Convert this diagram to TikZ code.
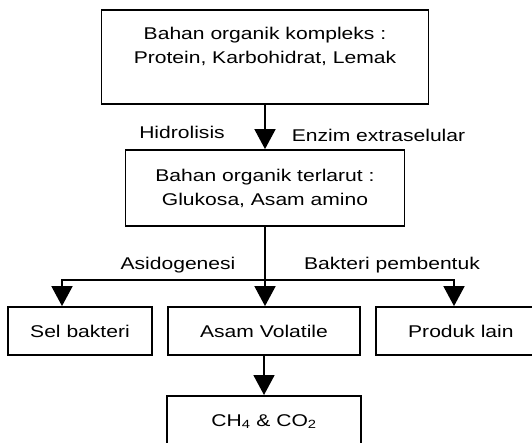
\documentclass[tikz,border=0pt]{standalone}
\usepackage{fontspec}
\setmainfont{Liberation Sans}[FakeStretch=1.24]
\usetikzlibrary{arrows.meta,positioning}
\tikzset{
flow/.style={x=1pt,y=-1pt,line width=1.8pt,
    >={Triangle[width=21pt,length=20pt]},
    font=\fontsize{17}{24}\selectfont},
box/.style={rectangle,draw,line width=1.8pt,align=center,inner sep=0pt},
lbl/.style={inner sep=0pt,anchor=base},
}

\begin{document}
\begin{tikzpicture}[flow]

    \useasboundingbox (0,0) rectangle (532,442);
    \clip (0,0) rectangle (532,442);

    \node[box,minimum width=327pt,minimum height=94pt] (kompleks) at (265,57)
        {Bahan organik kompleks :\\Protein, Karbohidrat, Lemak\\\mbox{}};
    \node[box,minimum width=279pt,minimum height=76pt] (terlarut) at (265,188)
        {Bahan organik terlarut :\\Glukosa, Asam amino};
    \node[box,minimum width=144pt,minimum height=48pt] (sel) at (80,331) {Sel bakteri};
    \node[box,minimum width=192pt,minimum height=48pt] (volatile) at (264,331) {Asam Volatile};
    \node[box,minimum width=200pt,minimum height=48pt,anchor=west] (produk) at (375,331)
        {Produk lain\hspace*{30pt}};
    \node[box,minimum width=194pt,minimum height=70pt,text depth=21pt,anchor=north]
        (gas) at (264,395) {CH\textsubscript{4} \& CO\textsubscript{2}};

    \node[lbl] (hidrolisis) at (182,138.5) {Hidrolisis};
    \node[lbl] (enzim) at (378.5,141.5) {Enzim extraselular};
    \node[lbl] (asido) at (178,269.3) {Asidogenesi};
    \node[lbl] (bakteri) at (392,269.3) {Bakteri pembentuk};

    \coordinate (cabang) at (265,280);
    \coordinate (kiri) at (62,280);
    \coordinate (kanan) at (454,280);

    % aliran utama
    \draw[->] (kompleks.south) -- (terlarut.north);
    \draw (terlarut.south) -- (cabang);
    \draw[->] (cabang) -| (sel.north -| kiri);
    \draw[->] (cabang) -| (produk.north -| kanan);
    \draw[->] (cabang) -- (volatile.north -| cabang);
    \draw[->] (volatile.south) -- (gas.north);

\end{tikzpicture}
\end{document}
